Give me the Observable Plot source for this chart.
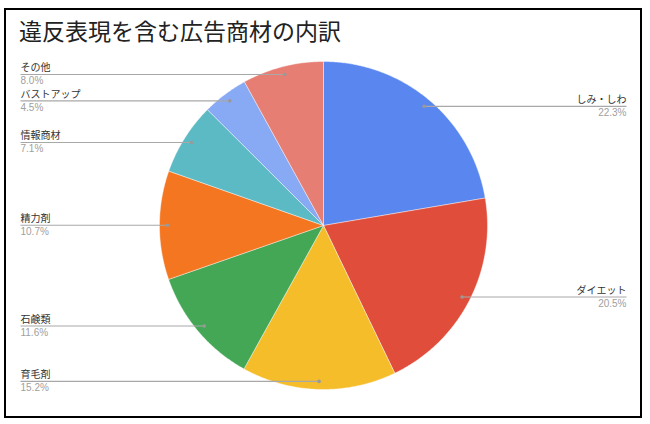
<!DOCTYPE html>
<html>
<head>
<meta charset="utf-8">
<script src="https://cdn.jsdelivr.net/npm/d3@7"></script>
<script src="https://cdn.jsdelivr.net/npm/@observablehq/plot@0.6"></script>
<style>
  html, body { margin: 0; padding: 0; background: #fff; }
  #wrap { position: relative; width: 650px; height: 424px; overflow: hidden; }
  #frame { position: absolute; left: 4px; top: 8px; width: 638px; height: 410px; box-sizing: border-box; border: 2px solid #000; pointer-events: none; }
  #title { position: absolute; left: 19px; top: 17px; font-family: "Noto Sans CJK JP", sans-serif; font-size: 23px; line-height: 1.2; color: #222; white-space: nowrap; }
  #chart { position: absolute; left: 0; top: 0; }
</style>
</head>
<body>
<div id="wrap">
  <div id="chart"></div>
  <div id="title">違反表現を含む広告商材の内訳</div>
  <div id="frame"></div>
</div>
<script>
// ---- data ----
const categories = ["しみ・しわ", "ダイエット", "育毛剤", "石鹸類", "精力剤", "情報商材", "バストアップ", "その他"];
const values = [22.3, 20.5, 15.2, 11.6, 10.7, 7.1, 4.5, 8.0];
const percentLabels = ["22.3%", "20.5%", "15.2%", "11.6%", "10.7%", "7.1%", "4.5%", "8.0%"];
const colors = ["#5a87ef", "#e04e3b", "#f5bd29", "#44a755", "#f47621", "#5cbac4", "#88a9f4", "#e67e74"];

// ---- layout ----
const cx = 323, cy = 225, R = 164;
const labelX = 1.8476;   // label edge, in radius units
const dotR = 0.951;      // leader dot radius, in radius units

const pie = d3.pie().sort(null).value(d => d)(values);

// slice polygons in unit-circle coordinates (angle 0 at top, clockwise)
const slicePts = [];
pie.forEach((p, i) => {
  const name = categories[i];
  slicePts.push({name, x: 0, y: 0});
  const n = Math.max(2, Math.ceil((p.endAngle - p.startAngle) / 0.01));
  for (let k = 0; k <= n; k++) {
    const a = p.startAngle + (p.endAngle - p.startAngle) * k / n;
    slicePts.push({name, x: Math.sin(a), y: -Math.cos(a)});
  }
  slicePts.push({name, x: 0, y: 0});
});

const labels = pie.map((p, i) => {
  const a = (p.startAngle + p.endAngle) / 2;
  const dx = Math.sin(a) * dotR, dy = -Math.cos(a) * dotR;
  const right = Math.sin(a) >= 0;
  return {name: categories[i], pct: percentLabels[i], dx, dy, lx: right ? labelX : -labelX, anchor: right ? "end" : "start"};
});
const rightLabels = labels.filter(d => d.anchor === "end");
const leftLabels = labels.filter(d => d.anchor === "start");

const font = "'Liberation Sans', 'Noto Sans CJK JP', sans-serif";

const chart = Plot.plot({
  width: 650,
  height: 424,
  margin: 0,
  style: {background: "transparent", fontFamily: font},
  x: {domain: [-1, 1], range: [cx - R, cx + R], axis: null},
  y: {domain: [-1, 1], range: [cy - R, cy + R], axis: null},
  color: {domain: categories, range: colors},
  marks: [
    Plot.line(slicePts, {x: "x", y: "y", z: "name", fill: "name", stroke: "#ffffff", strokeWidth: 0.6, strokeOpacity: 0.7, curve: "linear-closed"}),
    Plot.link(labels, {x1: "dx", y1: "dy", x2: "lx", y2: "dy", stroke: "#a8a8a8", strokeWidth: 1.1}),
    Plot.dot(labels, {x: "dx", y: "dy", r: 1.8, fill: "#999999"}),
    Plot.text(leftLabels, {x: "lx", y: "dy", text: "name", textAnchor: "start", lineAnchor: "bottom", dy: -3, fontSize: 10, fill: "#333333"}),
    Plot.text(leftLabels, {x: "lx", y: "dy", text: "pct", textAnchor: "start", lineAnchor: "top", dy: 2.8, fontSize: 10, fill: "#a0a0a0"}),
    Plot.text(rightLabels, {x: "lx", y: "dy", text: "name", textAnchor: "end", lineAnchor: "bottom", dy: -3, fontSize: 10, fill: "#333333"}),
    Plot.text(rightLabels, {x: "lx", y: "dy", text: "pct", textAnchor: "end", lineAnchor: "top", dy: 2.8, fontSize: 10, fill: "#a0a0a0"})
  ]
});
document.getElementById("chart").appendChild(chart);
</script>
</body>
</html>
